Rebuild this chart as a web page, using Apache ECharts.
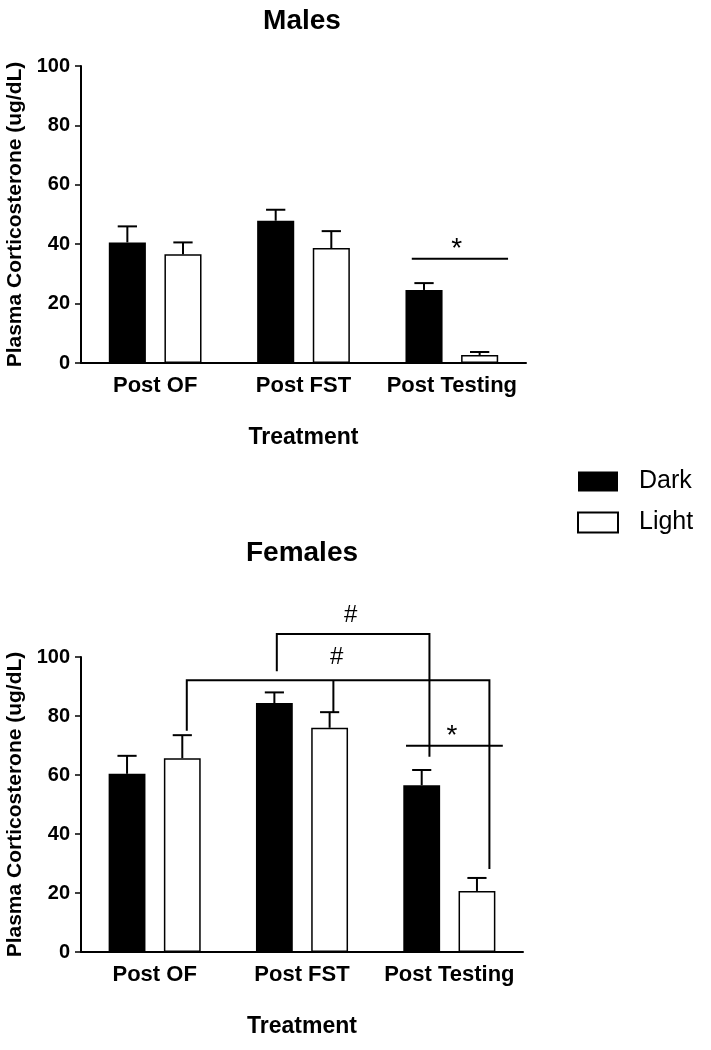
<!DOCTYPE html>
<html><head><meta charset="utf-8">
<script src="https://cdn.jsdelivr.net/npm/echarts@6/dist/echarts.min.js"></script>
<style>html,body{margin:0;padding:0;background:#fff}#c{width:711px;height:1050px}</style>
</head><body><div id="c"></div>
<script>
// ---------- data ----------
const categories = ['Post OF', 'Post FST', 'Post Testing'];
const seriesNames = ['Dark', 'Light'];
const yTicks = [0, 20, 40, 60, 80, 100];
const panelTitles = ['Males', 'Females'];
const xAxisTitle = 'Treatment';
const yAxisTitle = 'Plasma Corticosterone (ug/dL)';

const maleDark = [40.6, 47.9, 24.6];
const maleDarkErr = [5.4, 3.7, 2.3];
const maleLight = [36.6, 38.7, 2.7];
const maleLightErr = [4.0, 5.7, 1.0];

const femaleDark = [60.4, 84.4, 56.5];
const femaleDarkErr = [6.1, 3.6, 5.2];
const femaleLight = [65.7, 76.0, 20.7];
const femaleLightErr = [7.8, 5.3, 4.4];

// significance brackets: [category position, value] (category position 0 = first group centre)
const maleBrackets = [
  [[1.730, 35.1], [2.379, 35.1]]
];
const maleSigLabels = [
  {text: '*', x: 2.033, y: 38.2}
];
const femaleBrackets = [
  [[0.829, 95.2], [0.829, 107.8], [1.865, 107.8], [1.865, 66.2]],
  [[0.218, 75.0], [0.218, 92.1], [2.272, 92.1], [2.272, 28.1]],
  [[1.213, 92.1], [1.213, 81.3]],
  [[1.706, 69.9], [2.363, 69.9]]
];
const femaleSigLabels = [
  {text: '#', x: 1.331, y: 114.1},
  {text: '#', x: 1.236, y: 100.0},
  {text: '*', x: 2.017, y: 73.0}
];

// ---------- styling ----------
const FONT = '"Liberation Sans", Arial, sans-serif';
const BAR_OFFSET = 0.1875;   // bar centre offset as fraction of band width
const CAP_FRAC = 0.13;

const chart = echarts.init(document.getElementById('c'), null, {renderer: 'canvas'});

function errorSeries(idx, means, errs, side) {
  return {
    type: 'custom', xAxisIndex: idx, yAxisIndex: idx, clip: false, z: 3, silent: true,
    data: means.map((m, i) => [i, m, m + errs[i]]),
    renderItem(params, api) {
      const i = api.value(0);
      const bw = api.size([1, 0])[0];
      const base = api.coord([i, api.value(1)]);
      const top = api.coord([i, api.value(2)]);
      const x = base[0] + side * BAR_OFFSET * bw;
      const cap = CAP_FRAC * bw / 2;
      return {type: 'group', children: [
        {type: 'line', shape: {x1: x, y1: base[1], x2: x, y2: top[1]}, style: {stroke: '#000', lineWidth: 2}},
        {type: 'line', shape: {x1: x - cap, y1: top[1], x2: x + cap, y2: top[1]}, style: {stroke: '#000', lineWidth: 2}}
      ]};
    }
  };
}

function annotationSeries(idx, lines, labels) {
  return {
    type: 'custom', xAxisIndex: idx, yAxisIndex: idx, clip: false, z: 5, silent: true,
    data: [[0, 0]],
    renderItem(params, api) {
      const bw = api.size([1, 0])[0];
      const x0 = api.coord([0, 0])[0];
      const pt = p => [x0 + p[0] * bw, api.coord([0, p[1]])[1]];
      const children = lines.map(l => ({
        type: 'polyline', shape: {points: l.map(pt)},
        style: {stroke: '#000', lineWidth: 2, fill: null}
      }));
      labels.forEach(lb => {
        const p = pt([lb.x, lb.y]);
        children.push({type: 'text', x: p[0], y: p[1], style: {
          text: lb.text, fill: '#000', fontFamily: FONT,
          fontSize: lb.text === '*' ? 28 : 24, align: 'center', verticalAlign: 'middle'
        }});
      });
      return {type: 'group', children};
    }
  };
}

function barSeries(idx, name, data) {
  const dark = name === 'Dark';
  return {
    type: 'bar', name, xAxisIndex: idx, yAxisIndex: idx, data,
    barWidth: '25%', barGap: '50%', z: 2,
    itemStyle: dark ? {color: '#000'} : {color: '#fff', borderColor: '#000', borderWidth: 1.5}
  };
}

function xAxis(idx) {
  return {
    type: 'category', gridIndex: idx, data: categories,
    axisLine: {lineStyle: {color: '#000', width: 2}},
    axisTick: {alignWithLabel: true, length: 8, lineStyle: {color: '#000', width: 1.5}},
    axisLabel: {interval: 0, color: '#000', fontFamily: FONT, fontWeight: 'bold', fontSize: 22, margin: 12},
    name: xAxisTitle, nameLocation: 'middle', nameGap: 63,
    nameTextStyle: {color: '#000', fontFamily: FONT, fontWeight: 'bold', fontSize: 23}
  };
}

function yAxis(idx) {
  return {
    type: 'value', gridIndex: idx, min: yTicks[0], max: yTicks[yTicks.length - 1],
    interval: yTicks[1] - yTicks[0],
    axisLine: {show: true, lineStyle: {color: '#000', width: 2}},
    axisTick: {show: true, length: 6, lineStyle: {color: '#000', width: 1.5}},
    splitLine: {show: false},
    axisLabel: {color: '#000', fontFamily: FONT, fontWeight: 'bold', fontSize: 20, margin: 11},
    name: yAxisTitle, nameLocation: 'middle', nameGap: 54,
    nameTextStyle: {color: '#000', fontFamily: FONT, fontWeight: 'bold', fontSize: 21}
  };
}

const option = {
  backgroundColor: '#fff',
  animation: false,
  grid: [
    {left: 81, top: 66, width: 445, height: 297, outerBoundsMode: 'none', containLabel: false},
    {left: 81, top: 657, width: 442, height: 295, outerBoundsMode: 'none', containLabel: false}
  ],
  xAxis: [xAxis(0), xAxis(1)],
  yAxis: [yAxis(0), yAxis(1)],
  legend: {
    data: seriesNames, orient: 'vertical', left: 577, top: 469, padding: 0,
    itemWidth: 40, itemHeight: 20, itemGap: 16, icon: 'rect',
    textStyle: {color: '#000', fontFamily: FONT, fontSize: 25, lineHeight: 22, padding: [0, 0, 0, 16]}
  },
  graphic: [
    {type: 'text', x: 302, y: 21, style: {text: panelTitles[0], fill: '#000', fontFamily: FONT, fontWeight: 'bold', fontSize: 28, align: 'center', verticalAlign: 'middle'}},
    {type: 'text', x: 302, y: 553, style: {text: panelTitles[1], fill: '#000', fontFamily: FONT, fontWeight: 'bold', fontSize: 28, align: 'center', verticalAlign: 'middle'}}
  ],
  series: [
    barSeries(0, 'Dark', maleDark),
    barSeries(0, 'Light', maleLight),
    errorSeries(0, maleDark, maleDarkErr, -1),
    errorSeries(0, maleLight, maleLightErr, 1),
    annotationSeries(0, maleBrackets, maleSigLabels),
    barSeries(1, 'Dark', femaleDark),
    barSeries(1, 'Light', femaleLight),
    errorSeries(1, femaleDark, femaleDarkErr, -1),
    errorSeries(1, femaleLight, femaleLightErr, 1),
    annotationSeries(1, femaleBrackets, femaleSigLabels)
  ]
};
chart.setOption(option);
</script>
</body></html>
